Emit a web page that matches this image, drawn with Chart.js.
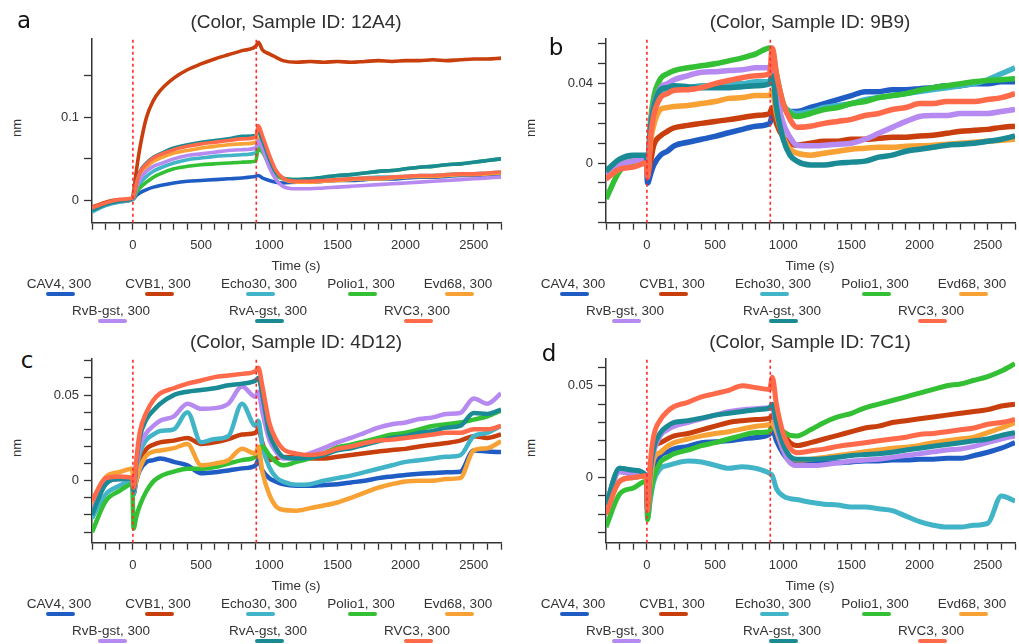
<!DOCTYPE html>
<html><head><meta charset="utf-8">
<script src="https://cdn.jsdelivr.net/npm/chart.js@4.4.1/dist/chart.umd.min.js"></script>
<style>
html,body{margin:0;padding:0;background:#fff}
body{width:1019px;height:644px;position:relative;overflow:hidden;font-family:"Liberation Sans",Arial,sans-serif;color:#333}
.t{position:absolute;white-space:nowrap;transform:translate(-50%,-50%);line-height:1}
.title{font-size:19px;color:#2e2e2e}
.letter{font-family:"DejaVu Sans",Verdana,sans-serif;font-size:23px;color:#111}
.xl{font-size:13.5px;color:#333}
.yl{font-size:13px;color:#333;transform:translate(-50%,-50%) rotate(-90deg)}
.lg{font-size:13.5px;color:#333}
.sw{position:absolute;height:3.5px;width:29px;border-radius:2px}
.cv{position:absolute}
</style>
</head><body>
<script>
// ---------- shared time axis (s) ----------
const T = [-300,-200,-100,-5,5,25,50,100,150,200,300,400,500,600,700,800,900,920,950,1000,1050,1100,1200,1300,1400,1500,1600,1700,1800,1900,2000,2100,2200,2300,2400,2500,2600,2700];
const SERIES = ['CAV4, 300','CVB1, 300','Echo30, 300','Polio1, 300','Evd68, 300','RvB-gst, 300','RvA-gst, 300','RVC3, 300'];
const COLORS = ['#1f5cc4','#c83e0c','#42b4c8','#34c034','#f8a236','#b68af0','#1a8a94','#ff6a4a'];
const X_TICK_LABELS = [0,500,1000,1500,2000,2500];
const STEP_LINES = [0,905];

// ---------- panel a (12A4) ----------
const a_CAV4  = [-0.010,-0.004,-0.001,0.001,0.002,0.006,0.009,0.013,0.016,0.018,0.021,0.023,0.024,0.025,0.026,0.027,0.029,0.030,0.027,0.024,0.022,0.021,0.022,0.022,0.023,0.024,0.024,0.025,0.026,0.026,0.027,0.028,0.028,0.029,0.030,0.030,0.031,0.032];
const a_CVB1  = [-0.008,-0.002,0.001,0.002,0.010,0.035,0.062,0.100,0.120,0.132,0.147,0.157,0.164,0.170,0.175,0.180,0.185,0.190,0.181,0.176,0.172,0.168,0.166,0.167,0.166,0.167,0.166,0.167,0.168,0.167,0.168,0.168,0.169,0.168,0.169,0.170,0.170,0.171];
const a_Echo30= [-0.014,-0.006,-0.002,0.001,0.003,0.012,0.020,0.029,0.035,0.039,0.045,0.049,0.051,0.053,0.054,0.055,0.057,0.068,0.062,0.045,0.032,0.026,0.023,0.023,0.024,0.025,0.026,0.027,0.028,0.028,0.029,0.030,0.030,0.031,0.032,0.032,0.033,0.034];
const a_Polio1= [-0.010,-0.004,-0.001,0.001,0.002,0.009,0.015,0.022,0.028,0.032,0.038,0.041,0.043,0.044,0.045,0.046,0.047,0.062,0.058,0.042,0.030,0.026,0.025,0.026,0.028,0.030,0.031,0.033,0.035,0.036,0.038,0.040,0.041,0.043,0.044,0.046,0.048,0.050];
const a_Evd68 = [-0.010,-0.004,-0.001,0.002,0.004,0.018,0.030,0.040,0.047,0.051,0.057,0.060,0.063,0.065,0.067,0.068,0.070,0.075,0.068,0.050,0.034,0.026,0.022,0.022,0.023,0.024,0.025,0.026,0.026,0.027,0.028,0.029,0.029,0.030,0.031,0.031,0.032,0.033];
const a_RvB   = [-0.010,-0.004,-0.001,0.001,0.003,0.014,0.025,0.035,0.041,0.044,0.050,0.054,0.056,0.058,0.060,0.061,0.063,0.072,0.062,0.040,0.025,0.017,0.014,0.014,0.015,0.016,0.017,0.018,0.019,0.020,0.021,0.022,0.023,0.024,0.025,0.026,0.027,0.028];
const a_RvA   = [-0.012,-0.005,-0.001,0.002,0.004,0.020,0.034,0.045,0.052,0.056,0.063,0.067,0.070,0.072,0.074,0.077,0.078,0.082,0.072,0.050,0.033,0.027,0.025,0.026,0.028,0.030,0.031,0.033,0.035,0.036,0.038,0.040,0.041,0.043,0.044,0.046,0.048,0.050];
const a_RVC3  = [-0.009,-0.003,0.001,0.003,0.005,0.020,0.033,0.044,0.051,0.055,0.061,0.065,0.068,0.070,0.072,0.074,0.076,0.090,0.078,0.055,0.036,0.027,0.023,0.023,0.024,0.025,0.026,0.027,0.027,0.028,0.029,0.030,0.030,0.031,0.032,0.032,0.033,0.034];

// ---------- panel b (9B9) ----------
const b_CAV4  = [-0.007,-0.001,0.001,0.001,-0.010,-0.006,-0.001,0.004,0.006,0.0087,0.0105,0.012,0.0135,0.0153,0.017,0.0186,0.020,0.024,0.025,0.028,0.026,0.026,0.028,0.030,0.032,0.034,0.036,0.036,0.037,0.037,0.0375,0.038,0.039,0.039,0.040,0.040,0.041,0.041];
const b_CVB1  = [-0.006,-0.001,0.001,0.002,-0.006,0.000,0.009,0.0137,0.016,0.0178,0.019,0.020,0.021,0.0219,0.023,0.024,0.025,0.028,0.020,0.013,0.010,0.009,0.010,0.011,0.011,0.012,0.012,0.0125,0.013,0.013,0.0137,0.014,0.015,0.016,0.0165,0.017,0.018,0.0186];
const b_Echo30= [-0.006,0.000,0.002,0.003,-0.006,0.014,0.026,0.035,0.037,0.038,0.038,0.039,0.039,0.040,0.040,0.041,0.041,0.046,0.035,0.028,0.026,0.025,0.026,0.028,0.029,0.030,0.032,0.033,0.034,0.035,0.036,0.037,0.038,0.039,0.040,0.042,0.045,0.048];
const b_Polio1= [-0.018,-0.004,0.000,0.002,-0.005,0.020,0.033,0.0425,0.045,0.0466,0.048,0.049,0.050,0.0515,0.053,0.055,0.058,0.057,0.045,0.030,0.025,0.0235,0.025,0.027,0.028,0.030,0.031,0.033,0.034,0.035,0.0367,0.038,0.039,0.040,0.041,0.0416,0.042,0.0425];
const b_Evd68 = [-0.007,-0.001,0.001,0.002,-0.006,0.010,0.019,0.027,0.028,0.0285,0.029,0.030,0.031,0.0326,0.033,0.034,0.034,0.036,0.025,0.013,0.007,0.005,0.004,0.005,0.006,0.007,0.0075,0.008,0.008,0.0085,0.0087,0.009,0.0095,0.010,0.0105,0.011,0.0115,0.012];
const b_RvB   = [-0.006,-0.001,0.001,0.002,-0.005,0.018,0.029,0.038,0.040,0.042,0.044,0.0458,0.046,0.0466,0.047,0.048,0.048,0.050,0.035,0.020,0.013,0.009,0.0087,0.009,0.0095,0.010,0.012,0.015,0.018,0.021,0.0235,0.024,0.024,0.025,0.025,0.025,0.026,0.027];
const b_RvA   = [-0.004,0.002,0.004,0.004,-0.004,0.017,0.028,0.037,0.038,0.039,0.0385,0.038,0.038,0.038,0.0385,0.039,0.040,0.044,0.028,0.012,0.004,0.001,-0.001,-0.001,0.000,0.0005,0.001,0.003,0.004,0.006,0.007,0.008,0.009,0.0095,0.010,0.011,0.012,0.0137];
const b_RVC3  = [-0.008,-0.003,-0.002,0.000,-0.007,0.012,0.024,0.033,0.035,0.0367,0.037,0.038,0.040,0.0416,0.043,0.044,0.045,0.058,0.045,0.030,0.022,0.018,0.0186,0.020,0.021,0.022,0.024,0.025,0.027,0.028,0.030,0.030,0.031,0.031,0.031,0.032,0.033,0.035];

// ---------- panel c (4D12) ----------
const c_CAV4  = [-0.020,-0.001,0.001,0.001,-0.008,0.000,0.006,0.011,0.012,0.013,0.011,0.009,0.0044,0.005,0.006,0.0072,0.009,0.012,0.006,0.0015,-0.0005,-0.002,-0.003,-0.003,-0.0025,-0.002,-0.001,0.000,0.0015,0.0025,0.0034,0.004,0.0045,0.005,0.0053,0.0177,0.017,0.0167];
const c_CVB1  = [-0.012,0.001,0.002,0.001,-0.005,0.004,0.011,0.0186,0.021,0.0224,0.0234,0.025,0.0215,0.0224,0.0243,0.027,0.028,0.030,0.022,0.012,0.013,0.0139,0.0135,0.013,0.013,0.014,0.015,0.016,0.017,0.018,0.0186,0.020,0.021,0.022,0.0234,0.026,0.025,0.027];
const c_Echo30= [-0.022,-0.008,-0.003,0.000,-0.008,0.006,0.016,0.024,0.027,0.029,0.030,0.040,0.0224,0.0243,0.026,0.045,0.032,0.035,0.020,0.008,0.002,-0.0005,-0.0023,-0.002,0.000,0.0015,0.003,0.005,0.007,0.009,0.011,0.012,0.013,0.014,0.0148,0.026,0.028,0.032];
const c_Polio1= [-0.030,-0.012,-0.006,-0.002,-0.028,-0.021,-0.0146,-0.006,-0.0004,0.0025,0.0053,0.007,0.007,0.008,0.010,0.012,0.0139,0.016,0.020,0.015,0.011,0.009,0.011,0.013,0.016,0.0196,0.021,0.023,0.025,0.027,0.028,0.030,0.032,0.033,0.034,0.0357,0.0376,0.041];
const c_Evd68 = [-0.015,0.002,0.005,0.007,-0.006,0.000,0.007,0.0148,0.017,0.0177,0.019,0.0215,0.009,0.010,0.012,0.0186,0.0158,0.020,0.005,-0.008,-0.015,-0.017,-0.0175,-0.016,-0.0145,-0.0127,-0.010,-0.007,-0.004,-0.002,-0.0004,0.000,0.000,0.001,0.0015,0.0177,0.019,0.023];
const c_RvB   = [-0.018,-0.002,0.001,0.001,-0.006,0.008,0.020,0.028,0.032,0.035,0.0376,0.045,0.042,0.0424,0.045,0.055,0.049,0.052,0.040,0.024,0.017,0.013,0.013,0.016,0.019,0.0224,0.025,0.028,0.031,0.033,0.034,0.036,0.037,0.039,0.0395,0.048,0.045,0.051];
const c_RvA   = [-0.020,-0.002,0.001,0.001,-0.006,0.010,0.025,0.036,0.041,0.045,0.050,0.052,0.053,0.054,0.0557,0.0567,0.0585,0.060,0.050,0.028,0.019,0.014,0.013,0.0135,0.015,0.0177,0.019,0.021,0.023,0.025,0.026,0.028,0.029,0.031,0.032,0.0395,0.039,0.0415];
const c_RVC3  = [-0.012,0.0015,0.0025,0.0015,-0.004,0.012,0.028,0.040,0.047,0.051,0.054,0.0567,0.0585,0.0605,0.0614,0.0624,0.064,0.066,0.055,0.034,0.024,0.0186,0.0158,0.015,0.016,0.0186,0.020,0.022,0.0235,0.024,0.025,0.026,0.027,0.028,0.028,0.030,0.030,0.032];

// ---------- panel d (7C1) ----------
const d_CAV4  = [-0.015,0.004,0.003,0.001,-0.018,-0.004,0.006,0.012,0.014,0.0156,0.017,0.019,0.0195,0.020,0.021,0.0218,0.0236,0.026,0.020,0.013,0.009,0.0085,0.008,0.008,0.008,0.0085,0.009,0.009,0.0095,0.0095,0.010,0.010,0.0105,0.0105,0.012,0.0138,0.016,0.019];
const d_CVB1  = [-0.018,-0.002,0.000,0.001,-0.018,0.000,0.0156,0.019,0.021,0.0227,0.024,0.026,0.028,0.030,0.031,0.0316,0.0324,0.034,0.030,0.024,0.019,0.0174,0.019,0.021,0.023,0.025,0.027,0.028,0.030,0.031,0.032,0.033,0.034,0.035,0.036,0.037,0.039,0.040];
const d_Echo30= [-0.015,0.005,0.004,0.001,-0.022,-0.012,-0.002,0.005,0.0065,0.0076,0.009,0.0085,0.0067,0.005,0.0059,0.005,0.0023,0.001,-0.006,-0.010,-0.0115,-0.012,-0.0135,-0.0145,-0.015,-0.016,-0.016,-0.017,-0.018,-0.021,-0.024,-0.026,-0.027,-0.027,-0.026,-0.025,-0.010,-0.0128];
const d_Polio1= [-0.027,-0.009,-0.0057,-0.002,-0.023,-0.010,0.000,0.0085,0.011,0.013,0.015,0.0174,0.019,0.021,0.023,0.0245,0.025,0.030,0.028,0.025,0.023,0.0227,0.026,0.030,0.033,0.035,0.038,0.040,0.042,0.044,0.046,0.048,0.050,0.051,0.053,0.055,0.058,0.062];
const d_Evd68 = [-0.018,-0.002,0.000,0.001,-0.018,-0.002,0.010,0.0138,0.017,0.019,0.021,0.0227,0.024,0.025,0.0265,0.028,0.029,0.030,0.025,0.015,0.011,0.0095,0.010,0.011,0.012,0.013,0.014,0.015,0.016,0.0165,0.0175,0.019,0.020,0.021,0.022,0.0245,0.027,0.030];
const d_RvB   = [-0.015,0.003,0.002,0.001,-0.018,0.003,0.014,0.023,0.026,0.028,0.030,0.032,0.034,0.036,0.037,0.0375,0.038,0.038,0.028,0.015,0.008,0.0065,0.0065,0.007,0.008,0.009,0.0095,0.010,0.011,0.012,0.013,0.014,0.015,0.0156,0.017,0.019,0.021,0.0227];
const d_RvA   = [-0.015,0.005,0.004,0.001,-0.018,0.004,0.016,0.0245,0.028,0.030,0.031,0.0324,0.034,0.035,0.036,0.037,0.038,0.040,0.030,0.018,0.0115,0.010,0.010,0.0103,0.011,0.012,0.0125,0.013,0.0138,0.015,0.016,0.017,0.018,0.019,0.020,0.021,0.023,0.0245];
const d_RVC3  = [-0.020,-0.002,0.000,0.001,-0.018,0.008,0.0227,0.0316,0.036,0.0387,0.041,0.044,0.0457,0.0475,0.050,0.049,0.048,0.0546,0.040,0.024,0.016,0.0135,0.0145,0.0155,0.017,0.018,0.019,0.020,0.021,0.022,0.0235,0.024,0.025,0.026,0.027,0.029,0.030,0.0316];

// ---------- per-panel axis settings ----------
const A_Y = {min:-0.0267, max:0.1942, step:0.05, labels:[0,0.1]};
const B_Y = {min:-0.0300, max:0.0626, step:0.01, labels:[0,0.04]};
const C_Y = {min:-0.0362, max:0.0712, step:0.01, labels:[0,0.05]};
const D_Y = {min:-0.0355, max:0.0647, step:0.01, labels:[0,0.05]};

const PANELS = [
  {letter:'a', title:'(Color, Sample ID: 12A4)', vals:[a_CAV4,a_CVB1,a_Echo30,a_Polio1,a_Evd68,a_RvB,a_RvA,a_RVC3], y:A_Y, dx:0,   dy:0,   top:33.5, bw:3.6, lx:24,  ly:20},
  {letter:'b', title:'(Color, Sample ID: 9B9)',  vals:[b_CAV4,b_CVB1,b_Echo30,b_Polio1,b_Evd68,b_RvB,b_RvA,b_RVC3], y:B_Y, dx:514, dy:0,   top:34.3, bw:5.5, lx:556, ly:47},
  {letter:'c', title:'(Color, Sample ID: 4D12)', vals:[c_CAV4,c_CVB1,c_Echo30,c_Polio1,c_Evd68,c_RvB,c_RvA,c_RVC3], y:C_Y, dx:0,   dy:320, top:34.5, bw:4.5, lx:27,  ly:360},
  {letter:'d', title:'(Color, Sample ID: 7C1)',  vals:[d_CAV4,d_CVB1,d_Echo30,d_Polio1,d_Evd68,d_RvB,d_RvA,d_RVC3], y:D_Y, dx:514, dy:320, top:34.3, bw:5,   lx:549, ly:353}
];

const LEG_X = [59,158,259,361,458, 111,268,417];
const LEG_ROW = [0,0,0,0,0,1,1,1];

function addText(cls, txt, x, y){
  const d=document.createElement('div'); d.className='t '+cls; d.textContent=txt;
  d.style.left=x+'px'; d.style.top=y+'px'; document.body.appendChild(d); return d;
}

PANELS.forEach(p=>{
  const plotL = 92+p.dx, plotR = 502+p.dx, plotT = p.top+p.dy, plotB = 222.7+p.dy;
  const cx = 36+p.dx, cy = 26+p.dy, cw = 473, ch = 236;
  const cv = document.createElement('canvas');
  cv.className='cv'; cv.width=cw; cv.height=ch;
  cv.style.left=cx+'px'; cv.style.top=cy+'px'; cv.style.width=cw+'px'; cv.style.height=ch+'px';
  document.body.appendChild(cv);

  const datasets = p.vals.map((arr,i)=>({
    label:SERIES[i],
    data:T.map((t,k)=>({x:t,y:arr[k]})),
    borderColor:COLORS[i], backgroundColor:COLORS[i],
    borderWidth:p.bw, pointRadius:0, cubicInterpolationMode:'monotone',
    borderJoinStyle:'round', order:8-i
  }));
  STEP_LINES.forEach(s=>datasets.push({
    label:'step', data:[{x:s,y:p.y.min},{x:s,y:p.y.max}],
    borderColor:'#ff2a2a', borderWidth:1.6, borderDash:[3,3], pointRadius:0, order:0, clip:false
  }));

  new Chart(cv,{
    type:'line',
    data:{datasets},
    options:{
      responsive:false, animation:false, devicePixelRatio:1,
      layout:{padding:{top:plotT-cy, right:cx+cw-plotR, left:0, bottom:0}},
      plugins:{legend:{display:false}, tooltip:{enabled:false}},
      scales:{
        x:{type:'linear', min:-300, max:2700,
           afterFit:s=>{s.height = cy+ch-plotB;},
           grid:{drawOnChartArea:false, drawTicks:true, tickLength:7, tickColor:'#333', tickWidth:1.3},
           border:{display:true, color:'#333', width:1.5},
           ticks:{stepSize:100, autoSkip:false, includeBounds:false, maxRotation:0, padding:8,
                  color:'#333', font:{family:'"Liberation Sans", Arial, sans-serif', size:13},
                  callback:v=>X_TICK_LABELS.includes(Math.round(v))?String(Math.round(v)):''}},
        y:{type:'linear', min:p.y.min, max:p.y.max,
           afterFit:s=>{s.width = plotL-cx;},
           grid:{drawOnChartArea:false, drawTicks:true, tickLength:8, tickColor:'#333', tickWidth:1.3},
           border:{display:true, color:'#333', width:1.5},
           ticks:{stepSize:p.y.step, autoSkip:false, includeBounds:false, padding:5,
                  color:'#333', font:{family:'"Liberation Sans", Arial, sans-serif', size:13},
                  callback:v=>{const r=Math.round(v*1000)/1000; return p.y.labels.some(l=>Math.abs(l-r)<1e-9)?String(r):'';}}}
      }
    }
  });

  addText('title', p.title, 296+p.dx, 20.5+p.dy);
  addText('letter', p.letter, p.lx, p.ly);
  addText('xl', 'Time (s)', 296+p.dx, 266+p.dy);
  addText('yl', 'nm', 16+p.dx, 128+p.dy);
  SERIES.forEach((name,i)=>{
    const ty = (LEG_ROW[i]?310.5:283.5)+p.dy;
    const tx = LEG_X[i]+p.dx;
    addText('lg', name, tx, ty);
    const sw=document.createElement('div'); sw.className='sw';
    sw.style.background=COLORS[i];
    sw.style.left=(tx+1-14.5)+'px'; sw.style.top=(ty+8.5)+'px';
    document.body.appendChild(sw);
  });
});
</script>
</body></html>
